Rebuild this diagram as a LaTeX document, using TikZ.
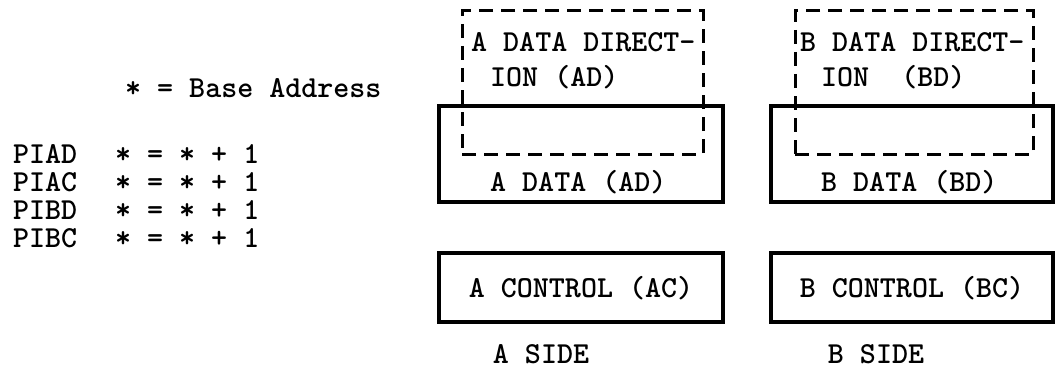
\documentclass[tikz,border=0pt]{standalone}
\usepackage{fontspec}
\begin{document}
\begin{tikzpicture}[x=1pt,y=-1pt,
  txt/.style={inner sep=0pt,anchor=base west,font=\fontsize{30.5}{32}\selectfont\ttfamily\bfseries},
  ctxt/.style={inner sep=0pt,anchor=base,font=\fontsize{30.5}{32}\selectfont\ttfamily\bfseries},
  solidbox/.style={draw,line width=3.2pt,inner sep=0pt},
  dashbox/.style={draw,line width=3pt,inner sep=0pt,dash pattern=on 14pt off 8pt}]
\useasboundingbox (0,0) rectangle (1055,369);
% left text
\node[txt] (base) at (125,97) {* = Base Address};
\node[txt] (piad) at (13,163) {PIAD};
\node[txt] (piac) at (13,191) {PIAC};
\node[txt] (pibd) at (13,219) {PIBD};
\node[txt] (pibc) at (13,247) {PIBC};
\node[txt] (eqa) at (115,163) {* = * + 1};
\node[txt] (eqb) at (115,191) {* = * + 1};
\node[txt] (eqc) at (115,219) {* = * + 1};
\node[txt] (eqd) at (115,247) {* = * + 1};
% A side boxes
\node[solidbox,minimum width=284pt,minimum height=96pt] (adata) at (581,154) {};
\node[dashbox,minimum width=241pt,minimum height=143pt] (addr) at (582.5,82.5) {};
\node[solidbox,minimum width=284pt,minimum height=69pt] (actl) at (581,287.5) {};
\node[txt] (adt1) at (471,52) {A DATA DIRECT-};
\node[txt] (adt2) at (490,86) {ION (AD)};
\node[txt] (adt3) at (490,191) {A DATA (AD)};
\node[ctxt] (actlt) at (581,297) {A CONTROL (AC)};
\node[ctxt] (aside) at (541,363) {A SIDE};
% B side boxes
\node[solidbox,minimum width=282pt,minimum height=96pt] (bdata) at (912,154) {};
\node[dashbox,minimum width=238pt,minimum height=143pt] (bddr) at (914,82.5) {};
\node[solidbox,minimum width=282pt,minimum height=69pt] (bctl) at (912,287.5) {};
\node[txt] (bdt1) at (800,52) {B DATA DIRECT-};
\node[txt] (bdt2) at (821,86) {ION~~(BD)};
\node[txt] (bdt3) at (821,191) {B DATA (BD)};
\node[ctxt] (bctlt) at (912,297) {B CONTROL (BC)};
\node[ctxt] (bside) at (876,363) {B SIDE};
\end{tikzpicture}
\end{document}
